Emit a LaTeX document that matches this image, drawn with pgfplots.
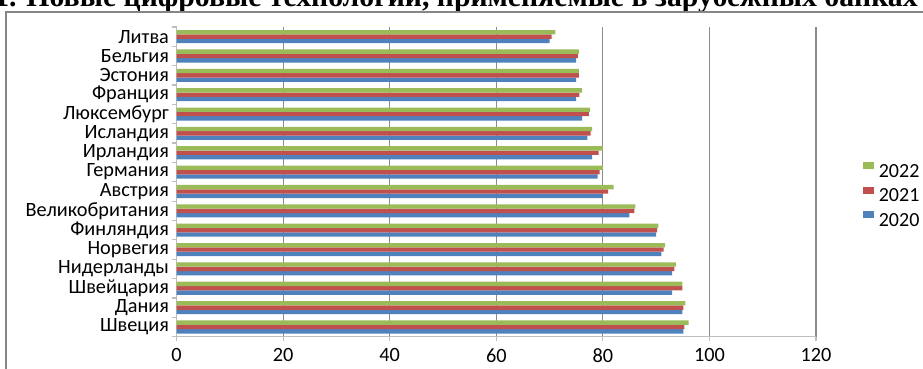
\documentclass[border=0pt]{standalone}
\usepackage{pgfplots}
\pgfplotsset{compat=1.18}
\usepackage{fontspec}
\setmainfont{Carlito}
\newfontfamily\titlefont{Liberation Serif}[BoldFont={Liberation Serif Bold}]
\definecolor{c20}{HTML}{4F81BD}
\definecolor{c21}{HTML}{C0504D}
\definecolor{c22}{HTML}{9BBB59}
\definecolor{gridc}{RGB}{140,140,140}
\definecolor{axc}{RGB}{190,190,190}
\definecolor{framec}{RGB}{134,134,134}
\begin{document}
\begin{tikzpicture}
\useasboundingbox (0,0) rectangle (692.25pt,276pt);
\clip (0,0) rectangle (692.25pt,276pt);
\node[anchor=base east, inner sep=0pt, font=\titlefont\bfseries\fontsize{22.3}{26}\selectfont] at (688.5pt,270.9pt) {1. Новые цифровые технологии, применяемые в зарубежных банках};
\draw[color=framec, line width=0.9pt] (4.5pt,267pt) rectangle (700pt,-10pt);
\begin{axis}[
  at={(132.4pt,23.5pt)}, anchor=south west,
  scale only axis, width=479.6pt, height=232.3pt,
  xbar, xmin=0, xmax=120, ymin=-0.5, ymax=15.5,
  xtick={0,20,...,120},
  ytick={0,...,15},
  yticklabels={Швеция,Дания,Швейцария,Нидерланды,Норвегия,Финляндия,Великобритания,Австрия,Германия,Ирландия,Исландия,Люксембург,Франция,Эстония,Бельгия,Литва},
  minor ytick={-0.5,0.5,...,15.5},
  axis x line*=bottom, axis y line*=left,
  axis line style={-, color=axc, line width=0.9pt},
  tick align=outside, major tick length=3.5pt, minor tick length=3.5pt,
  every major y tick/.append style={draw=none},
  every minor y tick/.append style={color=axc, line width=0.9pt},
  every major x tick/.append style={color=axc, line width=0.9pt},
  xmajorgrids, grid style={color=gridc, line width=0.9pt},
  /pgf/number format/assume math mode=true,
  ticklabel style={font=\fontsize{15.2}{18}\selectfont, text=black},
  yticklabel style={inner sep=0pt, anchor=east, xshift=-2pt},
  xticklabel style={inner sep=0pt, anchor=north, yshift=-5.3pt},
  bar width=0.225,
  reverse legend,
  legend style={at={(axis description cs:1.0723,0.456)}, anchor=west, draw=none, fill=none, inner sep=0pt, row sep=5.6pt, font=\fontsize{15}{18}\selectfont, nodes={inner sep=0pt}, /tikz/every odd column/.append style={column sep=3.5pt}},
  legend cell align=left,
  legend image code/.code={\fill[#1] (0pt,2.2pt) rectangle (8.75pt,7.2pt);},
]
\addplot[fill=c20, draw=none, bar shift=-0.225] coordinates {(95.1,0) (94.9,1) (93.0,2) (93.0,3) (91.0,4) (90.0,5) (85.0,6) (80.0,7) (79.0,8) (78.0,9) (77.1,10) (76.1,11) (75.0,12) (75.0,13) (75.0,14) (70.0,15)};
\addplot[fill=c21, draw=none, bar shift=0] coordinates {(95.3,0) (95.1,1) (94.9,2) (93.4,3) (91.4,4) (90.2,5) (85.9,6) (81.0,7) (79.4,8) (79.2,9) (77.7,10) (77.4,11) (75.6,12) (75.5,13) (75.3,14) (70.4,15)};
\addplot[fill=c22, draw=none, bar shift=0.225] coordinates {(96.1,0) (95.5,1) (94.9,2) (93.7,3) (91.7,4) (90.4,5) (86.1,6) (82.0,7) (80.0,8) (80.0,9) (78.0,10) (77.6,11) (76.1,12) (75.5,13) (75.5,14) (71.1,15)};
\legend{2020,2021,2022}
\end{axis}
\end{tikzpicture}
\end{document}
